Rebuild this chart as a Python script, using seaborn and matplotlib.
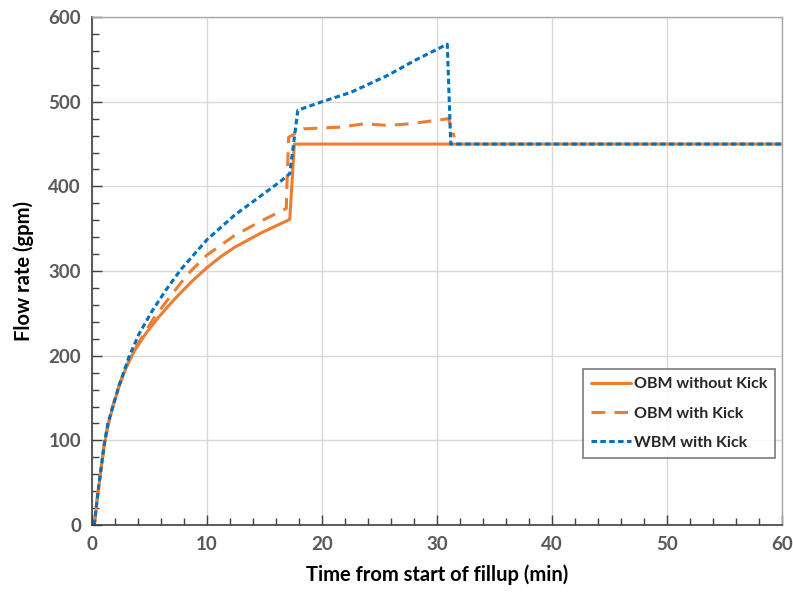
import numpy as np
import pandas as pd
import matplotlib
matplotlib.use("Agg")
import matplotlib.pyplot as plt
import seaborn as sns
from matplotlib.ticker import MultipleLocator

sns.set_theme(style="whitegrid")
plt.rcParams['font.family'] = ['Lato', 'DejaVu Sans']

# OBM without kick
t_obm = [0.2, 0.45, 0.75, 1.07, 1.4, 1.8, 2.36, 2.94, 3.66, 4.67, 5.82, 7.26, 8.7, 10.0, 11.2, 12.4, 14.7, 17.2, 17.6, 60.0]
q_obm = [0, 30, 62, 95, 118, 139, 164, 185, 205, 226, 246, 268, 288, 304, 317, 328, 345, 361, 450, 450]

# OBM with kick
t_obmk = [0.2, 0.45, 0.75, 1.07, 1.4, 1.8, 2.36, 2.94, 3.66, 4.67, 5.5, 6.7, 8.3, 10.0, 12.4, 14.7, 16.9, 16.95, 17.1, 18.4, 21.6, 23.7, 25.7, 27.7, 31.0, 31.4, 31.5]
q_obmk = [0, 30, 62, 95, 119, 140, 165, 186, 206, 229, 247, 268, 296, 319, 342, 359, 374, 400, 458, 468, 470, 474, 472, 474, 480, 464, 458]

# WBM with kick
t_wbm = [0.2, 0.45, 0.75, 1.07, 1.4, 2.36, 3.2, 4.1, 5.24, 6.4, 7.74, 10.0, 12.4, 14.7, 16.4, 17.2, 17.9, 20.0, 22.5, 25.7, 28.1, 30.9, 31.2, 60.0]
q_wbm = [0, 31, 63, 96, 121, 165, 198, 226, 253, 277, 302, 337, 366, 389, 406, 415, 490, 500, 511, 531, 549, 568, 450, 450]

orange = "#ED7D31"
blue = "#0070C0"

fig = plt.figure(figsize=(7.93, 5.99), dpi=100)
ax = fig.add_axes([0.116, 0.1235, 0.870, 0.848])

sns.lineplot(x=t_obm, y=q_obm, ax=ax, color=orange, linewidth=2.2, sort=False,
             label="OBM without Kick")
sns.lineplot(x=t_obmk, y=q_obmk, ax=ax, color=orange, linewidth=2.2, sort=False,
             label="OBM with Kick")
ax.lines[-1].set_dashes((4.5, 3))
sns.lineplot(x=t_wbm, y=q_wbm, ax=ax, color=blue, linewidth=2.2, sort=False,
             label="WBM with Kick")
ax.lines[-1].set_dashes((1.8, 1.1))

ax.set_xlim(0, 60)
ax.set_ylim(0, 600)
ax.xaxis.set_major_locator(MultipleLocator(10))
ax.yaxis.set_major_locator(MultipleLocator(100))
ax.xaxis.set_minor_locator(MultipleLocator(2))
ax.yaxis.set_minor_locator(MultipleLocator(20))
ax.grid(True, which="major", color="#D9D9D9", linewidth=1)
ax.grid(False, which="minor")
ax.tick_params(axis="both", which="major", direction="in", length=7, width=1,
               color="#404040", labelsize=13.5, labelcolor="#595959", pad=8)
ax.tick_params(axis="both", which="minor", direction="in", length=5, width=1,
               color="#404040")
ax.tick_params(axis="x", which="both", bottom=True, top=False)
ax.tick_params(axis="y", which="both", left=True, right=False)
for lab in ax.get_xticklabels() + ax.get_yticklabels():
    lab.set_fontweight("bold")

for side in ["top", "right"]:
    ax.spines[side].set_color("#A6A6A6")
    ax.spines[side].set_linewidth(1)
for side in ["left", "bottom"]:
    ax.spines[side].set_color("#404040")
    ax.spines[side].set_linewidth(1.2)

ax.set_xlabel("Time from start of fillup (min)", fontsize=14.5, fontweight="bold",
              color="black", labelpad=8)
ax.set_ylabel("Flow rate (gpm)", fontsize=14.5, fontweight="bold",
              color="black", labelpad=10)

leg = ax.legend(loc="lower right", bbox_to_anchor=(0.990, 0.132), fontsize=11.5,
                frameon=True, fancybox=False, edgecolor="#595959",
                handlelength=2.5, handletextpad=0.15, labelspacing=0.95,
                borderpad=0.5, borderaxespad=0)
leg.get_frame().set_linewidth(1.2)
for txt in leg.get_texts():
    txt.set_fontweight("bold")

fig.savefig("out.png", dpi=100)
